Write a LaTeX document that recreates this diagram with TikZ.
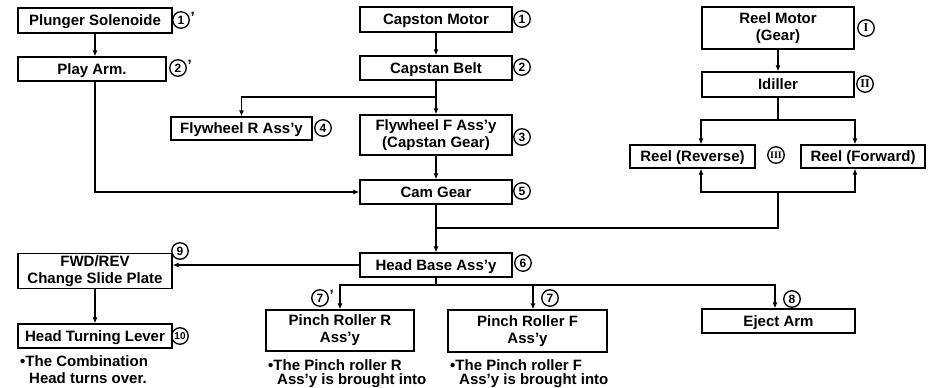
\documentclass[tikz,border=0pt]{standalone}
\usepackage{fontspec}
\setmainfont{Liberation Sans}
\newfontfamily\romanf{Liberation Serif}
\usetikzlibrary{arrows.meta}
\begin{document}
\begin{tikzpicture}[x=1pt,y=-1pt,
  box/.style={draw, line width=1.2pt, inner sep=0pt, align=center, font=\fontsize{15}{17}\selectfont\bfseries},
  sbox/.style={draw, line width=1.2pt, inner sep=0pt, text height=10.7pt, text depth=0pt, font=\fontsize{15}{17}\selectfont\bfseries},
  ln/.style={line width=1.2pt},
  arr/.style={line width=1.2pt, -{Latex[length=6pt,width=5pt]}},
  num/.style={circle, draw, line width=1.3pt, minimum size=16.5pt, inner sep=0pt, font=\fontsize{12}{12}\selectfont\bfseries},
  rnum/.style={num, font=\fontsize{12}{12}\selectfont\romanf\bfseries},
  prm/.style={anchor=west, inner sep=0.5pt, yshift=3pt, font=\fontsize{15}{15}\selectfont\bfseries},
  note/.style={anchor=base west, inner sep=0pt, font=\fontsize{15}{17}\selectfont\bfseries}]
\fill[white] (0,0) rectangle (937,388);
\useasboundingbox (0,0) rectangle (937,388);

% left column
\node[sbox, minimum width=154, minimum height=25] (ps) at (95,20.5) {Plunger Solenoide};
\node[sbox, minimum width=148, minimum height=24] (pa) at (92,69) {Play Arm.};
\node[box, minimum width=154, minimum height=35] (fwd) at (95,271) {FWD/REV\\Change Slide Plate};
\node[sbox, minimum width=154, minimum height=24] (htl) at (95,336) {Head Turning Lever};

% centre column
\node[sbox, minimum width=152, minimum height=25] (cm) at (436,19.5) {Capston Motor};
\node[sbox, minimum width=152, minimum height=24] (cb) at (436,68) {Capstan Belt};
\node[sbox, minimum width=141, minimum height=23] (fr) at (241.5,128.5) {Flywheel R Ass’y};
\node[box, minimum width=152, minimum height=40] (ff) at (436,135) {Flywheel F Ass’y\\(Capstan Gear)};
\node[sbox, minimum width=152, minimum height=24] (cg) at (436,192) {Cam Gear};
\node[sbox, minimum width=152, minimum height=24] (hb) at (436,265) {Head Base Ass’y};
\node[box, minimum width=148, minimum height=41] (prr) at (340,330.5) {Pinch Roller R\\Ass’y};
\node[box, minimum width=159, minimum height=42] (prf) at (527.5,331) {Pinch Roller F\\Ass’y};
\node[sbox, minimum width=153, minimum height=24] (ej) at (778.5,321) {Eject Arm};

% right column
\node[box, minimum width=152, minimum height=42] (rm) at (778,28) {Reel Motor\\(Gear)};
\node[sbox, minimum width=152, minimum height=25] (id) at (778,84.5) {Idiller};
\node[sbox, minimum width=125, minimum height=23] (rr) at (692.5,156.5) {Reel (Reverse)};
\node[sbox, minimum width=124, minimum height=23] (rf) at (863,156.5) {Reel (Forward)};

% number labels
\node[num] (c1p) at (181,20) {1};
\node[prm] (c1pq) at (c1p.east) {’};
\node[num] (c2p) at (178,68) {2};
\node[prm] (c2pq) at (c2p.east) {’};
\node[num] (c1) at (522,19) {1};
\node[num] (c2) at (522,67) {2};
\node[num] (c4) at (323,128) {4};
\node[num] (c3) at (522,137) {3};
\node[num] (c5) at (522,191) {5};
\node[num] (c6) at (523,263) {6};
\node[num] (c9) at (180,251) {9};
\node[num, font=\fontsize{10}{10}\selectfont\bfseries] (c10) at (180,336) {10};
\node[num] (c7p) at (320,298) {7};
\node[prm] (c7pq) at (c7p.east) {’};
\node[num] (c7) at (550,298) {7};
\node[num] (c8) at (792,299) {8};
\node[rnum] (r1) at (866,28) {I};
\node[rnum] (r2) at (865,84) {II};
\node[rnum, font=\fontsize{10}{10}\selectfont\romanf\bfseries] (r3) at (776,155) {III};

% notes
\node[note] (nh1) at (20,366) {•The Combination};
\node[note] (nh2) at (29,383) {Head turns over.};
\node[note] (nr1) at (268,370) {•The Pinch roller R};
\node[note] (nr2) at (277,384.5) {Ass’y is brought into};
\node[note] (nf1) at (450,370) {•The Pinch roller F};
\node[note] (nf2) at (459,384.5) {Ass’y is brought into};

% connectors left
\draw[arr] (ps.south) -- (ps.south |- pa.north);
\draw[arr] (ps.south |- pa.south) |- (cg.west);
\draw[arr] (hb.west) -- (hb.west -| fwd.east);
\draw[arr] (fwd.south) -- (htl.north);

% connectors centre
\draw[arr] (cm.south) -- (cb.north);
\draw[arr] (cb.south) -- (ff.north);
\coordinate (j1) at (436,97);
\draw[arr] (j1) -| (fr.north);
\draw[arr] (ff.south) -- (cg.north);
\draw[arr] (cg.south) -- (hb.north);
\coordinate (j6) at (436,285);
\coordinate (pfx) at (533,285);
\coordinate (ejx) at (775,285);
\draw[ln] (hb.south) -- (j6);
\draw[arr] (j6) -| (prr.north);
\draw[arr] (j6) -- (pfx) -- (pfx |- prf.north);
\draw[arr] (j6) -- (ejx) -- (ejx |- ej.north);

% connectors right
\draw[arr] (rm.south) -- (id.north);
\coordinate (j2) at (778,120);
\coordinate (rrx) at (701,120);
\coordinate (rfx) at (855,120);
\draw[ln] (id.south) -- (j2);
\draw[arr] (j2) -- (rrx) -- (rrx |- rr.north);
\draw[arr] (j2) -- (rfx) -- (rfx |- rf.north);
\coordinate (j3) at (778,192);
\coordinate (rrb) at (701,192);
\coordinate (rfb) at (855,192);
\draw[arr] (j3) -- (rrb) -- (rrb |- rr.south);
\draw[arr] (j3) -- (rfb) -- (rfb |- rf.south);
\coordinate (j4) at (778,228);
\coordinate (j5) at (436,228);
\draw[ln] (j3) -- (j4) -- (j5);
\end{tikzpicture}
\end{document}
